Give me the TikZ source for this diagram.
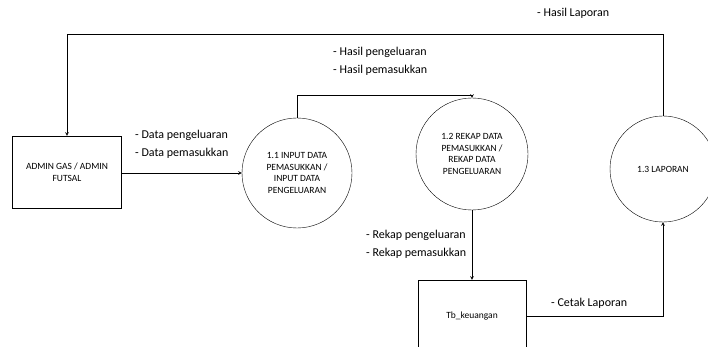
\documentclass[tikz,border=0pt]{standalone}
\usepackage{fontspec}
\setmainfont{Carlito}
\tikzstyle{proc}=[shape=circle,draw,inner sep=0pt,align=center,font=\fontsize{9.5}{11.5}\selectfont]
\tikzstyle{ent}=[shape=rectangle,draw,inner sep=0pt,align=center,font=\fontsize{9.5}{12}\selectfont]
\tikzstyle{to}=[->,>=stealth,semithick]
\tikzstyle{lbl}=[anchor=west,inner sep=0pt,align=left,font=\fontsize{12}{18}\selectfont]

\begin{document}
\begin{tikzpicture}[x=1pt,y=-1pt]
        \useasboundingbox (0,0) rectangle (708,347);
        \node[ent, minimum width=109pt, minimum height=72pt] (admin) at (67, 172) {ADMIN GAS / ADMIN\\FUTSAL};
        \node[proc, minimum size=110pt] (p11) at (297, 173) {1.1 INPUT DATA\\PEMASUKKAN /\\INPUT DATA\\PENGELUARAN};
        \node[proc, minimum size=112pt] (p12) at (472, 154) {1.2 REKAP DATA\\PEMASUKKAN /\\REKAP DATA\\PENGELUARAN};
        \node[proc, minimum size=106pt] (p13) at (663, 169) {1.3 LAPORAN};
        \node[ent, minimum width=108pt, minimum height=72pt] (tb) at (472, 316) {Tb\_keuangan};

        \draw[to] (admin.east |- p11.west) -- (p11.west);
        \draw[to] (p11.north) -- ++(0,-22) -| (p12.north);
        \draw[to] (p12.south) -- (tb.north);
        \draw[to] (tb.east) -| (p13.south);
        \draw[to] (p13.north) -- ++(0,-81) -| (admin.north);

        \node[lbl] (lhasillap) at (537, 13) {- Hasil Laporan};
        \node[lbl] (lhasil) at (333, 61.5) {- Hasil pengeluaran\\- Hasil pemasukkan};
        \node[lbl] (ldata) at (135, 144) {- Data pengeluaran\\- Data pemasukkan};
        \node[lbl] (lrekap) at (366, 244) {- Rekap pengeluaran\\- Rekap pemasukkan};
        \node[lbl] (lcetak) at (551, 303) {- Cetak Laporan};
    \end{tikzpicture}
\end{document}
